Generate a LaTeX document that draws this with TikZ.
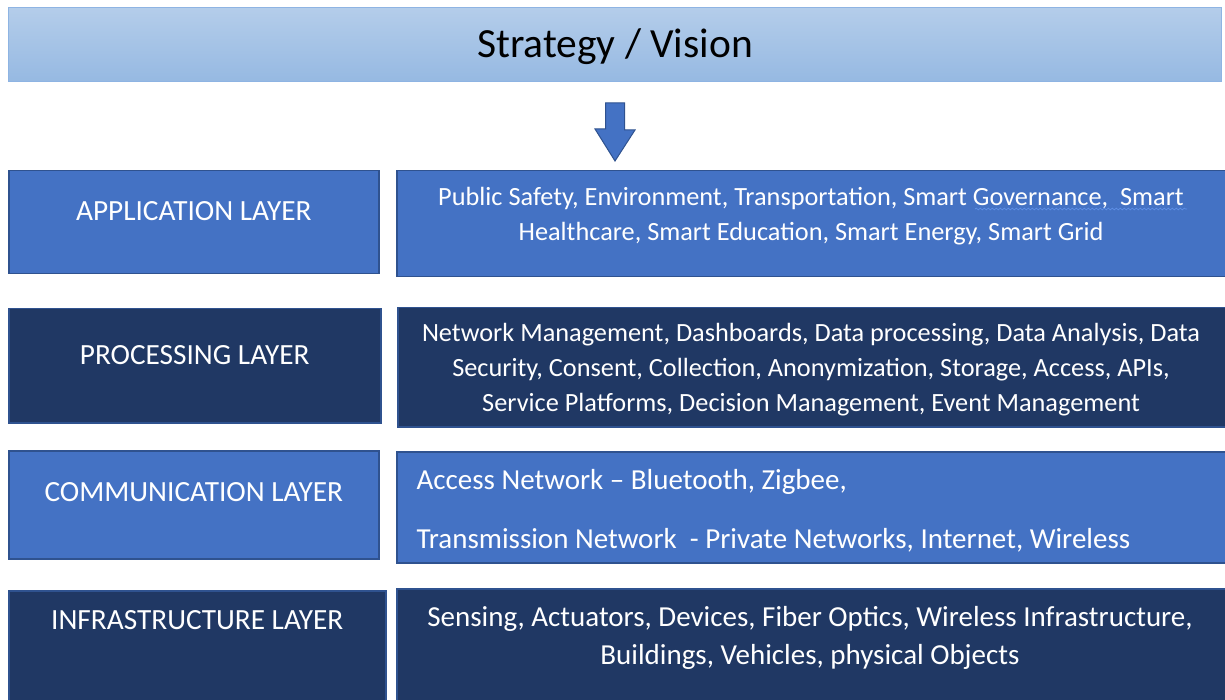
\documentclass[tikz,border=0pt]{standalone}
\usepackage{fontspec}
\setmainfont{Carlito}
\usetikzlibrary{positioning, decorations.pathmorphing}
\definecolor{LayerBlue}{HTML}{4472C4}
\definecolor{LayerNavy}{HTML}{203864}
\definecolor{EdgeBlue}{HTML}{2F528F}
\definecolor{VisionTop}{HTML}{B4CDEA}
\definecolor{VisionBot}{HTML}{96B9E2}
\definecolor{VisionEdge}{HTML}{8EB4E3}
\definecolor{SquiggleBlue}{HTML}{5E8FE6}

\begin{document}
\begin{tikzpicture}[x=1pt, y=-1pt,
  layer/.style = {draw=EdgeBlue, line width=1.5pt, anchor=north west, inner sep=0pt},
  lbl/.style   = {text=white, font=\fontsize{29.3}{34}\selectfont},
  items/.style = {text=white, align=center, font=\fontsize{26.3}{35}\selectfont}
 ]
\useasboundingbox (0,0) rectangle (1225,700);

%--- Strategy / Vision banner ---
\node[draw=VisionEdge, line width=1pt, top color=VisionTop, bottom color=VisionBot,
      anchor=north west, minimum width=1213pt, minimum height=74pt] (vision) at (8,7) {};
\node[font=\fontsize{41.5}{48}\selectfont] at ([yshift=-2pt]vision.center) {Strategy / Vision};

%--- block arrow down ---
\coordinate (arrtop) at (615,103);
\draw[fill=LayerBlue, draw=EdgeBlue, line width=1pt]
  ([xshift=-9.5pt]arrtop) -- ([xshift=9.5pt]arrtop) -- ++(0,27) -- ++(10.5,0)
  -- ([yshift=-58pt]arrtop) -- ++(-20,-32) -- ++(10.5,0) -- cycle;

%--- left column: layer names ---
\node[layer, fill=LayerBlue, minimum width=370pt, minimum height=103pt] (appL)   at (8,170) {};
\node[layer, fill=LayerNavy, minimum width=372pt, minimum height=114pt] (procL)  at (8,308) {};
\node[layer, fill=LayerBlue, minimum width=370pt, minimum height=108pt] (commL)  at (8,450) {};
\node[layer, fill=LayerNavy, minimum width=377pt, minimum height=115pt] (infraL) at (8,590) {};

\node[lbl] at ([yshift=-41pt]appL.north)   {APPLICATION LAYER};
\node[lbl] at ([yshift=-47pt]procL.north)  {PROCESSING LAYER};
\node[lbl] at ([yshift=-42pt]commL.north)  {COMMUNICATION LAYER};
\node[lbl] at ([yshift=-30pt]infraL.north) {INFRASTRUCTURE LAYER};

%--- right column: what each layer holds ---
\node[layer, fill=LayerBlue, minimum width=834pt, minimum height=106pt] (appR)   at (396,170) {};
\node[layer, fill=LayerNavy, minimum width=833pt, minimum height=119pt] (procR)  at (397,307) {};
\node[layer, fill=LayerBlue, minimum width=834pt, minimum height=111pt] (commR)  at (396,451) {};
\node[layer, fill=LayerNavy, minimum width=834pt, minimum height=117pt] (infraR) at (396,588) {};

\node[items] (appTxt) at (811,216)
  {Public Safety, Environment, Transportation, Smart Governance,\ \ Smart\\
   Healthcare, Smart Education, Smart Energy, Smart Grid};
% grammar squiggle under "Governance,  Smart"
\coordinate (sqA) at (975,209);
\coordinate (sqB) at (1187,209);
\draw[SquiggleBlue, line width=0.7pt, decorate,
      decoration={snake, amplitude=0.9pt, segment length=4pt}] (sqA) -- (sqB);

\node[items] (procTxt) at (811,370)
  {Network Management, Dashboards, Data processing, Data Analysis, Data\\
   Security, Consent, Collection, Anonymization, Storage, Access, APIs,\\
   Service Platforms, Decision Management, Event Management};
\node[items, align=left, anchor=west, font=\fontsize{29}{36}\selectfont] (commTxt) at (413,511)
  {Access Network -- Bluetooth, Zigbee,\\[23pt]
   Transmission Network\ \ - Private Networks, Internet, Wireless};
\node[items, font=\fontsize{29}{38}\selectfont] (infraTxt) at (810,638)
  {Sensing, Actuators, Devices, Fiber Optics, Wireless Infrastructure,\\
   Buildings, Vehicles, physical Objects};

\end{tikzpicture}
\end{document}
